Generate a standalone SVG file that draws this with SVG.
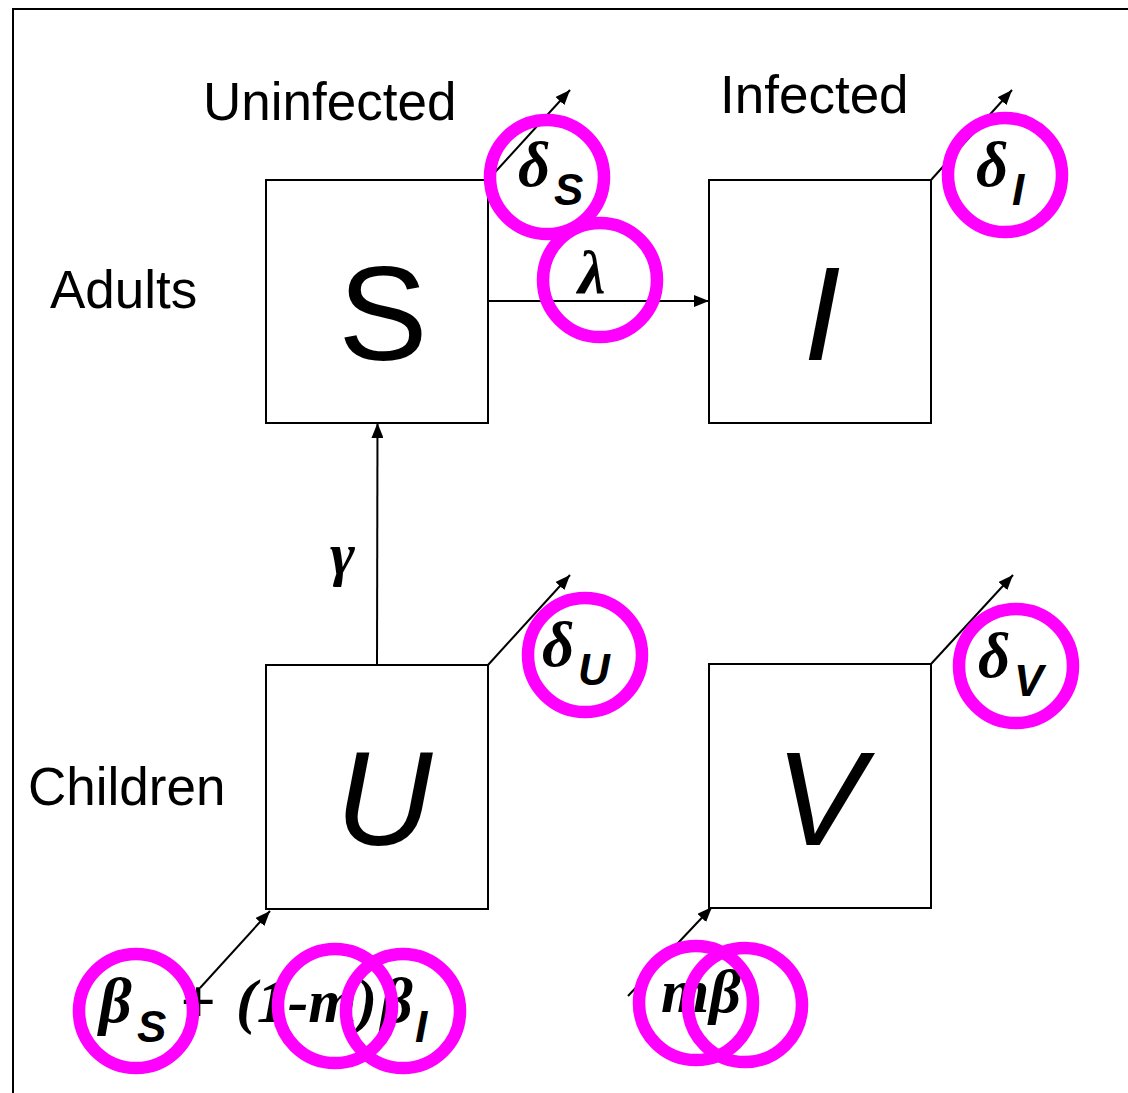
<svg xmlns="http://www.w3.org/2000/svg" width="1128" height="1093" viewBox="0 0 1128 1093">
  <style>
    .box { fill: #fff; stroke: #000; stroke-width: 2; }
    .frame { fill: none; stroke: #000; stroke-width: 2; }
    .flow { fill: none; stroke: #000; stroke-width: 2; marker-end: url(#head); }
    .label { font-family: "Liberation Sans", Arial, sans-serif; font-size: 53px; fill: #000; }
    .state { font-family: "Liberation Sans", Arial, sans-serif; font-size: 134px; fill: #000; text-anchor: middle; }
    .greek { font-family: "Liberation Serif", "Times New Roman", serif; font-weight: bold; font-style: italic; fill: #000; }
    .sub { font-family: "Liberation Sans", Arial, sans-serif; font-weight: bold; font-style: italic; fill: #000; }
    .ring { fill: none; stroke: #ff00ff; stroke-width: 12.5; }
  </style>
  <defs>
    <marker id="head" markerUnits="userSpaceOnUse" markerWidth="16" markerHeight="12" refX="15" refY="6" orient="auto">
      <path d="M0,0 L15,6 L0,12 z" fill="#000"/>
    </marker>
  </defs>

  <rect width="1128" height="1093" fill="#fff"/>
  <!-- outer frame (open to the right and bottom) -->
  <path class="frame" d="M13,1093 L13,9 L1128,9"/>

  <!-- row / column headings -->
  <text class="label" x="203" y="120">Uninfected</text>
  <text class="label" x="720" y="113">Infected</text>
  <text class="label" x="50" y="308">Adults</text>
  <text class="label" x="28" y="805">Children</text>

  <!-- connectors -->
  <g id="connectors">
    <line class="flow" x1="488" y1="180" x2="570" y2="90"/>
    <line class="flow" x1="931" y1="180" x2="1012" y2="90"/>
    <line class="flow" x1="488" y1="665" x2="570" y2="575"/>
    <line class="flow" x1="931" y1="664" x2="1013" y2="575"/>
    <line class="flow" x1="488" y1="301" x2="709" y2="301"/>
    <line class="flow" x1="377" y1="665" x2="377.5" y2="423"/>
    <line class="flow" x1="200" y1="988" x2="270" y2="911"/>
    <line class="flow" x1="628" y1="996" x2="712" y2="907"/>
  </g>

  <!-- compartments -->
  <g id="node-S">
    <rect class="box" x="266" y="180" width="222" height="243"/>
    <text class="state" x="383" y="360">S</text>
  </g>
  <g id="node-I">
    <rect class="box" x="709" y="180" width="222" height="243"/>
    <text class="state" x="822" y="360" font-style="italic">I</text>
  </g>
  <g id="node-U">
    <rect class="box" x="266" y="665" width="222" height="244"/>
    <text class="state" x="384" y="845" font-style="italic">U</text>
  </g>
  <g id="node-V">
    <rect class="box" x="709" y="664" width="222" height="244"/>
    <text class="state" x="820" y="845" font-style="italic">V</text>
  </g>

  <!-- rate labels -->
  <g id="rates">
    <text x="518" y="186"><tspan class="greek" font-size="63">δ</tspan><tspan class="sub" font-size="44" x="554" dy="19">S</tspan></text>
    <text x="976" y="186"><tspan class="greek" font-size="63">δ</tspan><tspan class="sub" font-size="44" x="1012" dy="19">I</tspan></text>
    <text x="542" y="666"><tspan class="greek" font-size="63">δ</tspan><tspan class="sub" font-size="44" x="578" dy="19">U</tspan></text>
    <text x="978" y="677"><tspan class="greek" font-size="63">δ</tspan><tspan class="sub" font-size="44" x="1014" dy="19">V</tspan></text>
    <text class="greek" x="578" y="293" font-size="62">λ</text>
    <text class="greek" x="330" y="574" font-size="60">γ</text>
    <text x="99" y="1022"><tspan class="greek" font-size="64">β</tspan><tspan class="sub" font-size="44" x="137" dy="20">S</tspan><tspan class="greek" font-size="62" font-style="normal" x="180" dy="-20">+</tspan><tspan class="greek" font-size="62" x="236">(1-m)</tspan><tspan class="greek" font-size="64" x="380">β</tspan></text>
    <text class="sub" font-size="44" x="415" y="1042">I</text>
    <text class="greek" x="661" y="1012" font-size="62">mβ</text>
  </g>

  <!-- highlight rings -->
  <g id="rings">
    <circle class="ring" cx="547" cy="177" r="57"/>
    <circle class="ring" cx="600" cy="280" r="57"/>
    <circle class="ring" cx="1005" cy="175" r="57"/>
    <circle class="ring" cx="585" cy="655" r="57"/>
    <circle class="ring" cx="1016" cy="666" r="57"/>
    <circle class="ring" cx="136" cy="1011" r="57"/>
    <circle class="ring" cx="335" cy="1006" r="57"/>
    <circle class="ring" cx="403" cy="1011" r="57"/>
    <circle class="ring" cx="696" cy="1003" r="57"/>
    <circle class="ring" cx="745" cy="1005" r="57"/>
  </g>
</svg>
